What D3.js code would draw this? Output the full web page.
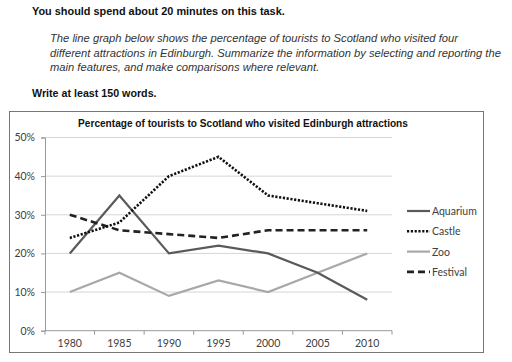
<!DOCTYPE html>
<html>
<head>
<meta charset="utf-8">
<script src="https://cdnjs.cloudflare.com/ajax/libs/d3/7.8.5/d3.min.js"></script>
<style>
	body { margin: 0; background: #fff; }
	svg text { font-family: "Liberation Sans", Arial, sans-serif; }
	.chart text { font-family: Lato, "Open Sans", sans-serif; fill: #404040; }
</style>
</head>
<body>
<div id="container"></div>
<script>
var years = ["1980", "1985", "1990", "1995", "2000", "2005", "2010"];
var aquarium = [20, 35, 20, 22, 20, 15, 8];
var castle = [24, 28, 40, 45, 35, 33, 31];
var zoo = [10, 15, 9, 13, 10, 15, 20];
var festival = [30, 26, 25, 24, 26, 26, 26];
var seriesNames = ["Aquarium", "Castle", "Zoo", "Festival"];
var yTicks = [0, 10, 20, 30, 40, 50];

var styles = {
	"Aquarium": {color: "#5a5a5a", width: 2.2, dash: null},
	"Castle": {color: "#111", width: 2.6, dash: "2.2,1.6"},
	"Zoo": {color: "#a8a8a8", width: 2.2, dash: null},
	"Festival": {color: "#222", width: 2.6, dash: "7,4"}
};

function render(){
	var svg = d3.select("#container")
		.append("svg")
		.attr("width", 512)
		.attr("height", 362);

	// task text above the chart
	svg.append("text")
		.attr("x", 32).attr("y", 15)
		.style("font-weight", "bold").style("font-size", "10.9px").style("fill", "#111")
		.text("You should spend about 20 minutes on this task.");

	var para = [
		"The line graph below shows the percentage of tourists to Scotland who visited four",
		"different attractions in Edinburgh. Summarize the information by selecting and reporting the",
		"main features, and make comparisons where relevant."
	];
	svg.selectAll(".para")
		.data(para)
		.enter().append("text")
		.attr("class", "para")
		.attr("x", 50)
		.attr("y", function(d, i) { return 42 + i * 14.5; })
		.style("font-style", "italic").style("font-size", "11.2px").style("fill", "#333")
		.text(function(d) { return d; });

	svg.append("text")
		.attr("x", 32).attr("y", 97)
		.style("font-weight", "bold").style("font-size", "10.7px").style("fill", "#111")
		.text("Write at least 150 words.");

	// chart frame
	svg.append("rect")
		.attr("x", 9.5).attr("y", 111.5)
		.attr("width", 474).attr("height", 241)
		.attr("fill", "none").attr("stroke", "#777").attr("stroke-width", 1);

	var plot = svg.append("g").attr("class", "chart");

	var x = d3.scalePoint().domain(years).range([45, 392]).padding(0.5);
	var y = d3.scaleLinear().domain([0, 50]).range([330.7, 137.5]);

	svg.append("text")
		.attr("x", 243).attr("y", 127)
		.attr("text-anchor", "middle")
		.style("font-weight", "bold").style("font-size", "10.1px").style("fill", "#111")
		.text("Percentage of tourists to Scotland who visited Edinburgh attractions");

	// gridlines
	plot.selectAll(".grid")
		.data(yTicks.slice(1))
		.enter().append("line")
		.attr("x1", 45).attr("x2", 392)
		.attr("y1", function(d) { return y(d); })
		.attr("y2", function(d) { return y(d); })
		.attr("stroke", "#d6d6d6").attr("stroke-width", 1);

	// y axis
	var yAxis = plot.append("g")
		.attr("transform", "translate(45,0)")
		.call(d3.axisLeft(y)
			.tickValues(yTicks)
			.tickSize(4)
			.tickPadding(6)
			.tickFormat(function(d) { return d + "%"; }));
	yAxis.selectAll("path, line").attr("stroke", "#999");
	yAxis.selectAll("text").style("font-size", "10.5px").style("fill", "#404040");

	// x axis: ticks between categories
	var step = x.step();
	var bounds = d3.range(years.length + 1).map(function(i) { return 45 + i * step; });
	var xAxis = plot.append("g");
	xAxis.append("line")
		.attr("x1", 45).attr("x2", 392)
		.attr("y1", y(0)).attr("y2", y(0))
		.attr("stroke", "#999");
	xAxis.selectAll(".xt")
		.data(bounds)
		.enter().append("line")
		.attr("x1", function(d) { return d; }).attr("x2", function(d) { return d; })
		.attr("y1", y(0)).attr("y2", y(0) + 4)
		.attr("stroke", "#999");
	xAxis.selectAll(".xl")
		.data(years)
		.enter().append("text")
		.attr("x", function(d) { return x(d); })
		.attr("y", 347)
		.attr("text-anchor", "middle")
		.style("font-size", "10.5px")
		.text(function(d) { return d; });

	// lines
	var data = {"Aquarium": aquarium, "Castle": castle, "Zoo": zoo, "Festival": festival};
	var line = d3.line()
		.x(function(d, i) { return x(years[i]); })
		.y(function(d) { return y(d); });

	["Zoo", "Aquarium", "Festival", "Castle"].forEach(function(name) {
		var s = styles[name];
		plot.append("path")
			.datum(data[name])
			.attr("d", line)
			.attr("fill", "none")
			.attr("stroke", s.color)
			.attr("stroke-width", s.width)
			.attr("stroke-dasharray", s.dash);
	});

	// legend
	var legend = plot.selectAll(".legend")
		.data(seriesNames)
		.enter().append("g")
		.attr("transform", function(d, i) { return "translate(407," + (211 + i * 20.3) + ")"; });
	legend.append("line")
		.attr("x1", 0).attr("x2", 23)
		.attr("stroke", function(d) { return styles[d].color; })
		.attr("stroke-width", function(d) { return styles[d].width; })
		.attr("stroke-dasharray", function(d) { return styles[d].dash; });
	legend.append("text")
		.attr("x", 25).attr("y", 4)
		.style("font-size", "10.5px")
		.text(function(d) { return d; });
}
render();
</script>
</body>
</html>
